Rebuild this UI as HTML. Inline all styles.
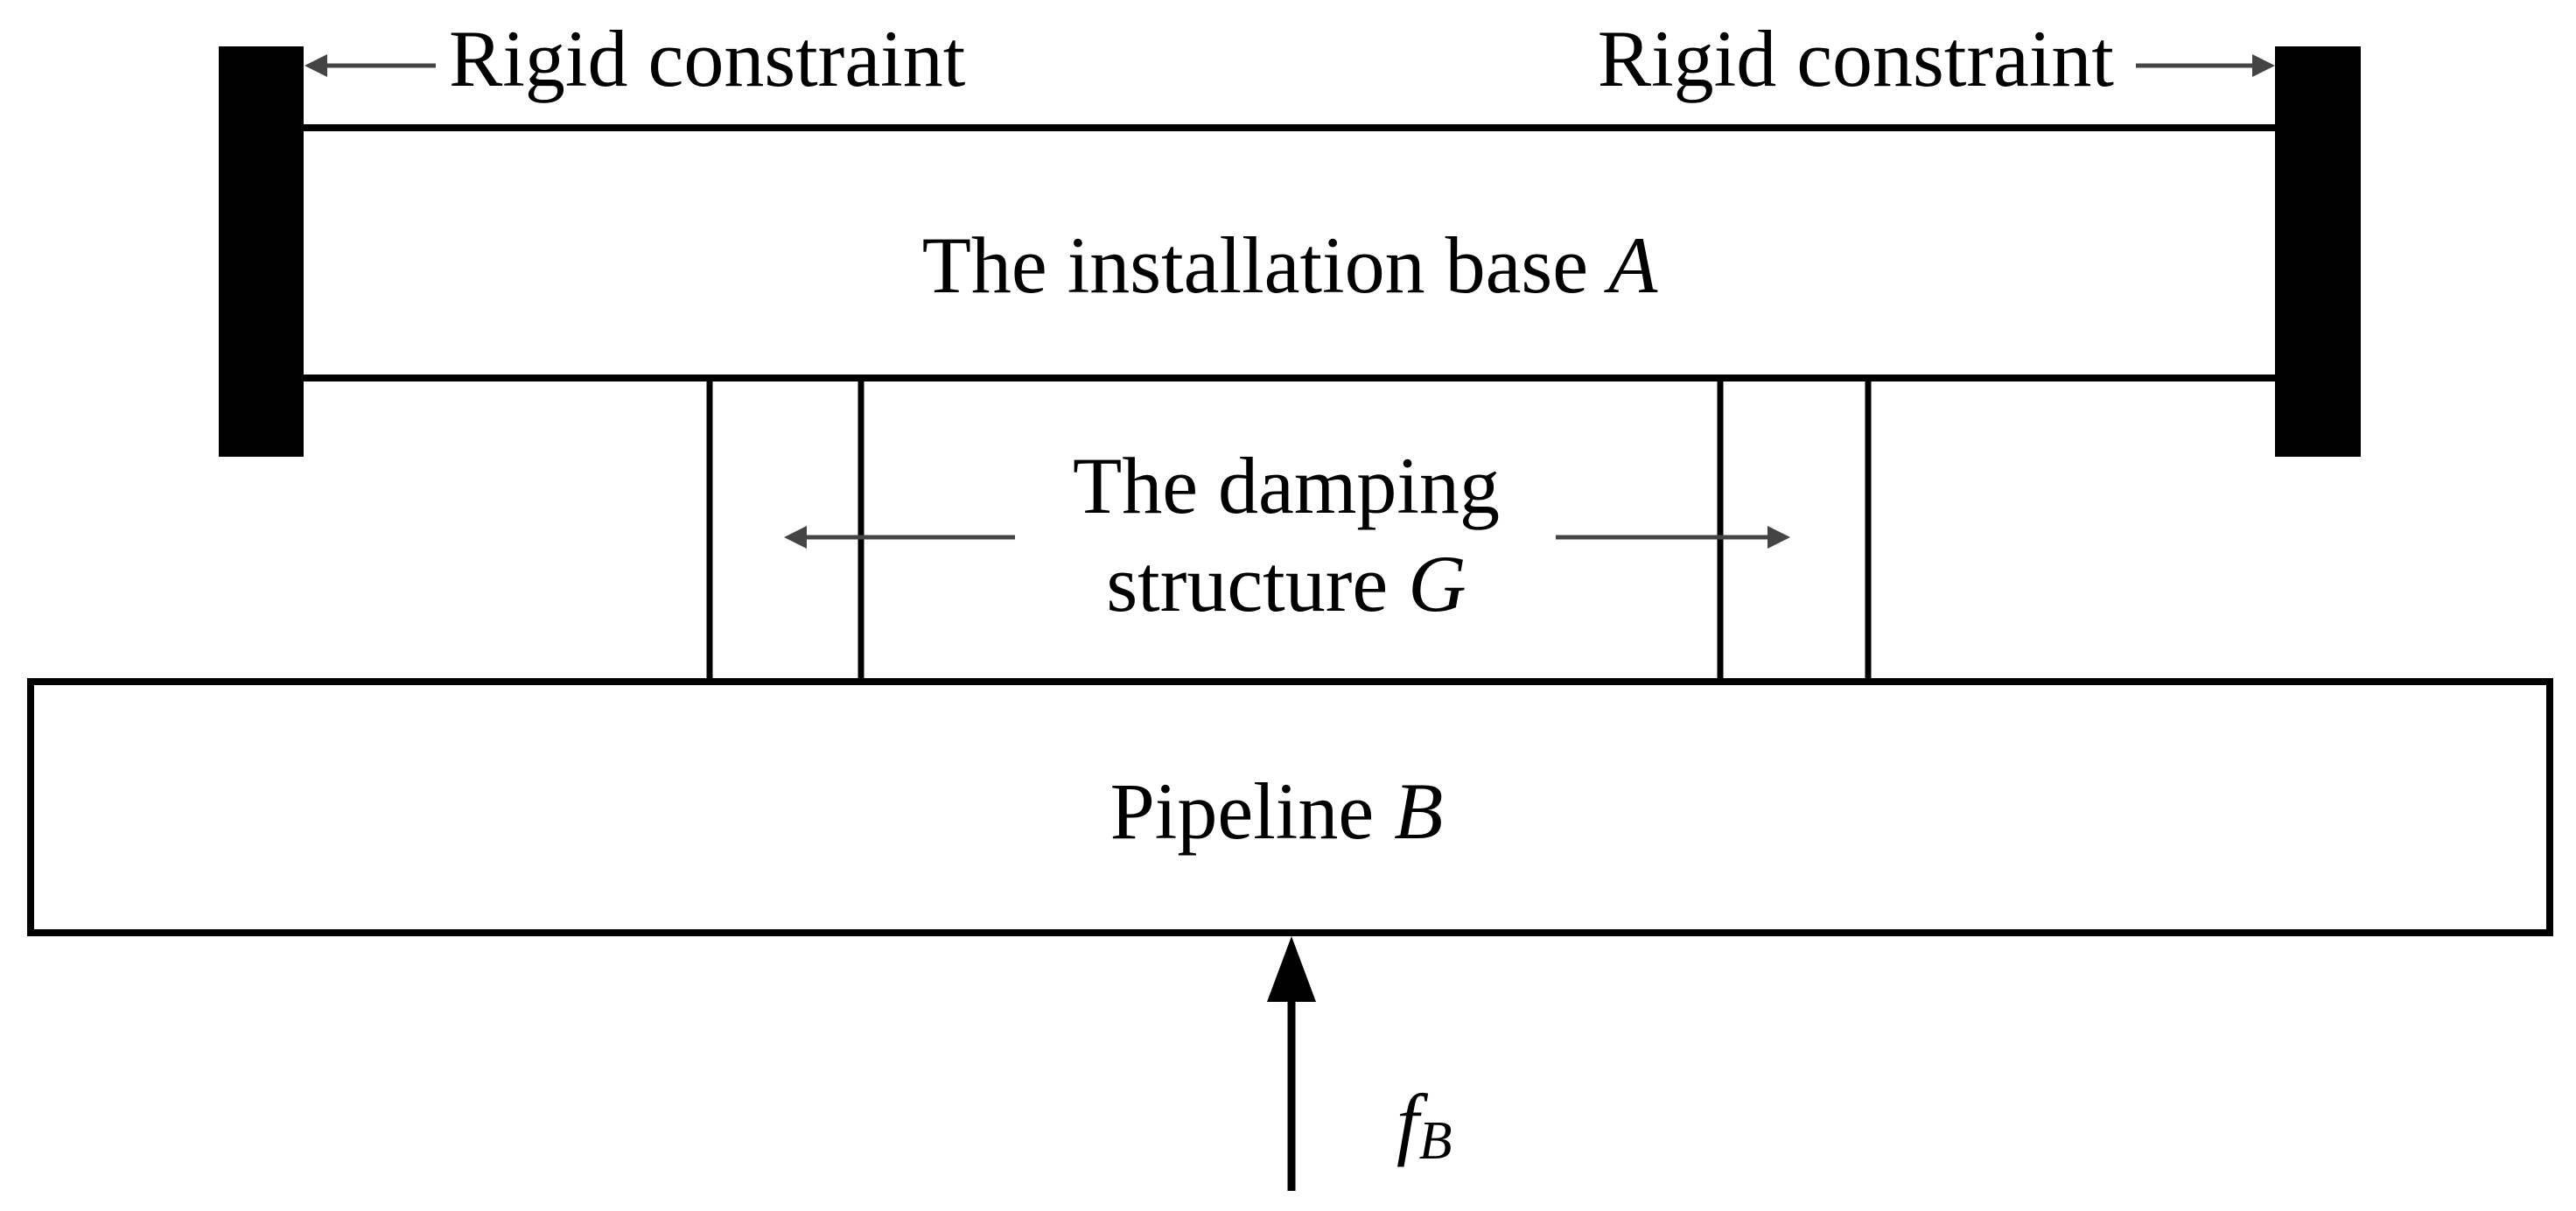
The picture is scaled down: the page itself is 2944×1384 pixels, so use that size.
<!DOCTYPE html>
<html><head><meta charset="utf-8"><style>
html,body{margin:0;padding:0;background:#fff;}
svg{display:block}
text{font-family:"Liberation Serif",serif;font-size:92px;fill:#000}
</style></head><body>
<svg width="2944" height="1384" viewBox="0 0 2944 1384" xmlns="http://www.w3.org/2000/svg">
<rect x="250" y="53" width="97" height="469" fill="#000"/>
<rect x="2600" y="53" width="98" height="469" fill="#000"/>
<line x1="347" y1="146" x2="2600" y2="146" stroke="#000" stroke-width="8"/>
<line x1="347" y1="432" x2="2600" y2="432" stroke="#000" stroke-width="8"/>
<g stroke="#000" stroke-width="7">
<line x1="811" y1="432" x2="811" y2="779"/>
<line x1="984" y1="432" x2="984" y2="779"/>
<line x1="1966" y1="432" x2="1966" y2="779"/>
<line x1="2135" y1="432" x2="2135" y2="779"/>
</g>
<rect x="35" y="779" width="2879" height="287" fill="none" stroke="#000" stroke-width="8"/>
<line x1="1476" y1="1130" x2="1476" y2="1361" stroke="#000" stroke-width="9"/>
<polygon points="1476,1070 1448,1145 1504,1145" fill="#000"/>
<g stroke="#444" stroke-width="5" fill="#444">
<line x1="370" y1="75" x2="498" y2="75"/>
<polygon points="348,75 374,62 374,88" stroke="none"/>
<line x1="2441" y1="75" x2="2578" y2="75"/>
<polygon points="2600,75 2574,62 2574,88" stroke="none"/>
<line x1="918" y1="614" x2="1160" y2="614"/>
<polygon points="896,614 922,601 922,627" stroke="none"/>
<line x1="1778" y1="614" x2="2024" y2="614"/>
<polygon points="2046,614 2020,601 2020,627" stroke="none"/>
</g>
<text x="513" y="98">Rigid constraint</text>
<text x="2416" y="98" text-anchor="end">Rigid constraint</text>
<text x="1474" y="334" text-anchor="middle">The installation base <tspan font-style="italic">A</tspan></text>
<text x="1470" y="586" text-anchor="middle">The damping</text>
<text x="1470" y="698" text-anchor="middle">structure <tspan font-style="italic">G</tspan></text>
<text x="1459" y="958" text-anchor="middle">Pipeline <tspan font-style="italic">B</tspan></text>
<text x="1596" y="1314" font-style="italic">f<tspan font-size="62" dy="10">B</tspan></text>
</svg>
</body></html>
